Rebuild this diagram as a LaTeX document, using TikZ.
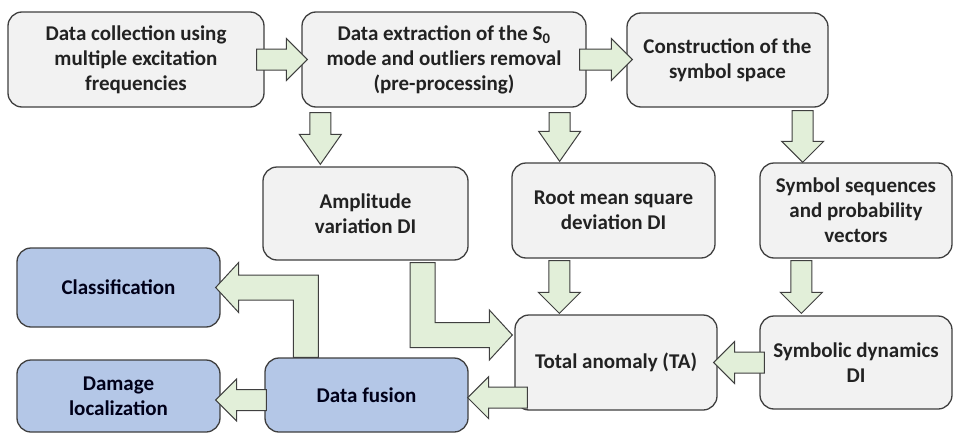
\documentclass[tikz,border=0pt]{standalone}
\usepackage{fontspec}
\setmainfont{Carlito}
\usetikzlibrary{calc}
\definecolor{boxgrey}{HTML}{F2F2F2}
\definecolor{boxline}{HTML}{3F3F3F}
\definecolor{fuseblue}{HTML}{B4C7E7}
\definecolor{arrowgreen}{HTML}{E2EFD9}
\definecolor{inkdark}{HTML}{222222}

\tikzset{
  stage/.style={draw=boxline, line width=1.3pt, fill=boxgrey, rounded corners=14pt,
    align=center, inner sep=0pt, text=inkdark,
    font=\fontsize{21}{25}\selectfont\bfseries},
  outcome/.style={stage, fill=fuseblue, text=black!90!blue},
  fatarrow/.style={draw=boxline, line width=1pt, fill=arrowgreen, line join=miter}
}

% block arrow sizes (half shaft, half head, head length)
\def\shafthalf{10.5pt}
\def\winghalf{21pt}
\def\headlen{21pt}

% straight block arrows: #1 tail, #2 tip
\newcommand{\fatright}[2]{%
  \draw[fatarrow] let \p1=(#1), \p2=(#2) in
    (\x1,\y1-\shafthalf) -- (\x2-\headlen,\y1-\shafthalf) -- (\x2-\headlen,\y1-\winghalf)
    -- (\x2,\y1) -- (\x2-\headlen,\y1+\winghalf) -- (\x2-\headlen,\y1+\shafthalf)
    -- (\x1,\y1+\shafthalf) -- cycle;}
\newcommand{\fatleft}[2]{%
  \draw[fatarrow] let \p1=(#1), \p2=(#2) in
    (\x1,\y1-\shafthalf) -- (\x2+\headlen,\y1-\shafthalf) -- (\x2+\headlen,\y1-\winghalf)
    -- (\x2,\y1) -- (\x2+\headlen,\y1+\winghalf) -- (\x2+\headlen,\y1+\shafthalf)
    -- (\x1,\y1+\shafthalf) -- cycle;}
\newcommand{\fatdown}[2]{%
  \draw[fatarrow] let \p1=(#1), \p2=(#2) in
    (\x1-\shafthalf,\y1) -- (\x1-\shafthalf,\y2+\headlen) -- (\x1-\winghalf,\y2+\headlen)
    -- (\x1,\y2) -- (\x1+\winghalf,\y2+\headlen) -- (\x1+\shafthalf,\y2+\headlen)
    -- (\x1+\shafthalf,\y1) -- cycle;}
% bent block arrows
\newcommand{\fatdownright}[2]{%
  \draw[fatarrow] let \p1=(#1), \p2=(#2) in
    (\x1-\shafthalf,\y1) -- (\x1-\shafthalf,\y2-\shafthalf) -- (\x2-\headlen,\y2-\shafthalf)
    -- (\x2-\headlen,\y2-\winghalf) -- (\x2,\y2) -- (\x2-\headlen,\y2+\winghalf)
    -- (\x2-\headlen,\y2+\shafthalf) -- (\x1+\shafthalf,\y2+\shafthalf)
    -- (\x1+\shafthalf,\y1) -- cycle;}
\newcommand{\fatupleft}[2]{%
  \draw[fatarrow] let \p1=(#1), \p2=(#2) in
    (\x1+\shafthalf,\y1) -- (\x1+\shafthalf,\y2+\shafthalf) -- (\x2+\headlen,\y2+\shafthalf)
    -- (\x2+\headlen,\y2+\winghalf) -- (\x2,\y2) -- (\x2+\headlen,\y2-\winghalf)
    -- (\x2+\headlen,\y2-\shafthalf) -- (\x1-\shafthalf,\y2-\shafthalf)
    -- (\x1-\shafthalf,\y1) -- cycle;}

\begin{document}
\begin{tikzpicture}[x=1pt, y=-1pt]
  \useasboundingbox (0,0) rectangle (954,434);

  % processing chain
  \node[stage, minimum width=256pt, minimum height=95pt] (collect) at (136,59.5)
    {Data collection using\\multiple excitation\\frequencies};
  \node[stage, minimum width=284pt, minimum height=95pt] (extract) at (444,59.5)
    {Data extraction of the S\textsubscript{0}\\mode and outliers removal\\(pre-processing)};
  \node[stage, minimum width=201pt, minimum height=94pt] (symspace) at (727.5,60)
    {Construction of the\\symbol space};

  % damage indices
  \node[stage, minimum width=205pt, minimum height=93pt] (ampdi) at (365.5,213.5)
    {Amplitude\\variation DI};
  \node[stage, minimum width=203pt, minimum height=95pt] (rmsd) at (613.5,210.5)
    {Root mean square\\deviation DI};
  \node[stage, minimum width=192pt, minimum height=95pt] (symseq) at (856,210.5)
    {Symbol sequences\\and probability\\vectors};
  \node[stage, minimum width=202pt, minimum height=95pt] (ta) at (616,362.5)
    {Total anomaly (TA)};
  \node[stage, minimum width=192pt, minimum height=93pt] (symdyn) at (856,362.5)
    {Symbolic dynamics\\DI};

  % fusion and results
  \node[outcome, minimum width=203pt, minimum height=74pt] (fusion) at (366.5,395)
    {Data fusion};
  \node[outcome, minimum width=203pt, minimum height=79pt] (classif) at (118.5,287.5)
    {Classification};
  \node[outcome, minimum width=203pt, minimum height=72pt] (damage) at (118.5,396)
    {Damage\\localization};

  % arrows
  \fatright{$(collect.east)+(-8,0)$}{$(extract.west)+(6,0)$}
  \fatright{$(extract.east)+(-7,0)$}{$(symspace.west)+(6,0)$}
  {\def\headlen{30pt}
  \fatdown{$(extract.south west)+(19,5)$}{$(ampdi.north)+(0,-2)$}
  \fatdown{$(extract.south east)+(-27,5)$}{$(rmsd.north)+(0,-1)$}}
  \fatdown{$(symspace.south east)+(-26,3)$}{symseq.north}
  \fatdown{$(rmsd.south west)+(48,2)$}{$(ta.north)+(0,-1)$}
  \fatdown{$(symseq.south west)+(42,2)$}{$(symdyn.north)+(0,-2)$}
  \fatleft{$(symdyn.west)+(5,0)$}{$(ta.east)+(-4,0)$}
  \fatleft{$(ta.south west)+(13,-13)$}{$(fusion.east)+(-1,0)$}
  \fatleft{$(fusion.west)+(2,5)$}{$(damage.east)+(-5,0)$}
  {\def\shafthalf{12.5pt}\def\winghalf{25pt}\def\headlen{23pt}
  \fatdownright{$(ampdi.south east)+(-46,2)$}{$(ta.west)+(-2,-27.5)$}
  \fatupleft{$(fusion.north west)+(41.5,0)$}{$(classif.east)+(-5,0)$}}
\end{tikzpicture}
\end{document}
